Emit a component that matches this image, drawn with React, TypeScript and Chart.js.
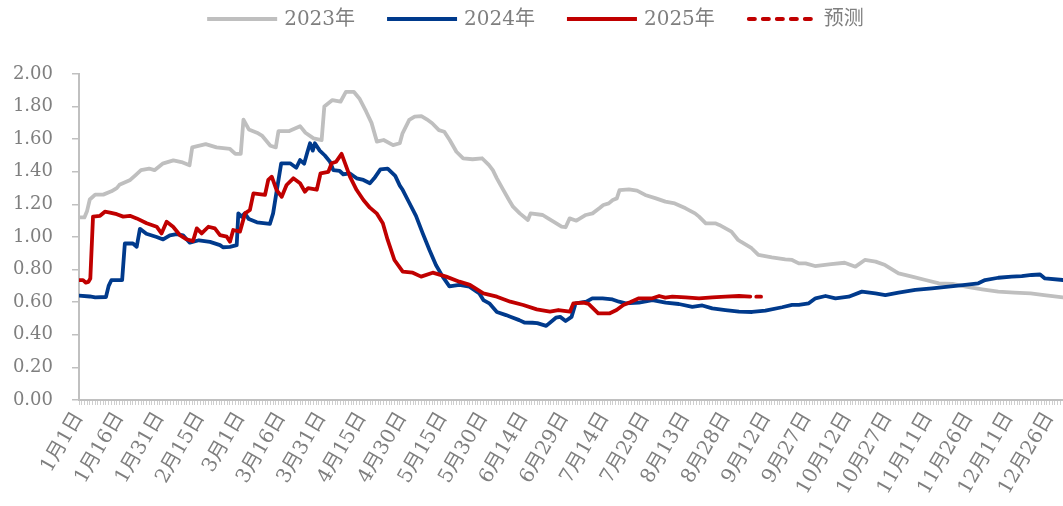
import React, { useEffect, useRef } from 'react';
import { Chart, registerables } from 'chart.js';

Chart.register(...registerables);

// ---------- data ----------
const xTickLabels = [
  '1月1日', '1月16日', '1月31日', '2月15日', '3月1日', '3月16日', '3月31日', '4月15日',
  '4月30日', '5月15日', '5月30日', '6月14日', '6月29日', '7月14日', '7月29日', '8月13日',
  '8月28日', '9月12日', '9月27日', '10月12日', '10月27日', '11月11日', '11月26日', '12月11日', '12月26日',
];
const yTickValues = [0, 0.2, 0.4, 0.6, 0.8, 1.0, 1.2, 1.4, 1.6, 1.8, 2.0];
const dayCount = 366;
const legendLabels = ['2023年', '2024年', '2025年', '预测'];

const days2023 = [0, 2, 3, 4, 6, 9, 12, 14, 15, 19, 21, 23, 26, 28, 31, 35, 38, 41, 42, 47, 51, 56, 58, 60, 61, 63, 66, 68, 71, 73, 74, 78, 82, 84, 87, 90, 91, 94, 97, 99, 102, 104, 106.5, 108.5, 110.5, 113, 116.5, 119, 120, 122.5, 124.5, 127, 129, 131, 133.5, 135.5, 137.5, 140, 142.5, 146, 149.5, 152, 153.5, 155, 157, 159.5, 161, 163.5, 166.5, 167.5, 172, 174, 176, 179, 180.5, 182, 184.5, 188, 190.5, 193, 194.5, 196.5, 198, 199.5, 200.5, 204, 207, 210, 214, 217.5, 221, 225, 228.5, 230, 232.5, 236, 237.5, 242, 244.5, 245.5, 249.5, 252, 257, 262, 264.5, 267, 269.5, 273, 279, 284, 288, 291.5, 295.5, 299, 304, 309, 314, 319, 324, 329, 335, 341, 347, 353, 358, 365];
const values2023 = [1.12, 1.12, 1.16, 1.23, 1.26, 1.26, 1.28, 1.30, 1.32, 1.35, 1.38, 1.41, 1.42, 1.41, 1.45, 1.47, 1.46, 1.44, 1.55, 1.57, 1.55, 1.54, 1.51, 1.51, 1.72, 1.66, 1.64, 1.62, 1.56, 1.55, 1.65, 1.65, 1.68, 1.64, 1.605, 1.595, 1.80, 1.84, 1.83, 1.89, 1.89, 1.85, 1.77, 1.70, 1.585, 1.595, 1.564, 1.575, 1.636, 1.718, 1.738, 1.742, 1.722, 1.698, 1.656, 1.646, 1.595, 1.523, 1.483, 1.477, 1.483, 1.442, 1.41, 1.36, 1.30, 1.227, 1.186, 1.145, 1.104, 1.145, 1.135, 1.114, 1.094, 1.063, 1.06, 1.114, 1.10, 1.135, 1.145, 1.176, 1.196, 1.206, 1.227, 1.237, 1.288, 1.292, 1.285, 1.258, 1.237, 1.217, 1.206, 1.176, 1.145, 1.125, 1.084, 1.084, 1.074, 1.033, 0.982, 0.971, 0.931, 0.89, 0.875, 0.863, 0.859, 0.838, 0.838, 0.822, 0.834, 0.842, 0.818, 0.859, 0.849, 0.828, 0.777, 0.757, 0.736, 0.716, 0.712, 0.695, 0.679, 0.665, 0.659, 0.654, 0.644, 0.63];

const days2024 = [0, 4, 6, 10, 11, 12, 16, 17, 20, 21.4, 22.6, 25, 28.8, 31.2, 33.7, 36.2, 38.6, 41.1, 44.5, 48.6, 52.3, 53.4, 56, 58.5, 59.1, 60.3, 61.5, 63, 66, 70.8, 72, 73.5, 75, 78.3, 80.6, 82, 83.5, 84.7, 85.7, 86.7, 87.5, 89.3, 91.2, 93.1, 94.3, 96.7, 98, 100.5, 103, 105.5, 107.9, 109.5, 111.8, 114.5, 117.3, 119, 120.1, 122.6, 125, 127.5, 130, 132.4, 134.9, 137.4, 141.1, 144.8, 148.5, 150, 152.2, 155, 158.4, 160, 163.3, 165.2, 168.2, 170, 173.3, 176.9, 178.5, 180.5, 182.7, 184.2, 188.2, 190.4, 194.2, 197.9, 200.3, 202.8, 207.7, 212.7, 217.6, 222.5, 227.5, 231.2, 234.9, 239.8, 244.8, 249.7, 254.6, 260.8, 264.5, 267, 270.7, 273.2, 276.9, 280.6, 285.5, 290.4, 295.4, 299.1, 304, 310.2, 316.4, 322.5, 328.7, 333.6, 336.1, 341, 346, 349.7, 353.4, 356.5, 358.3, 365];
const values2024 = [0.64, 0.635, 0.63, 0.632, 0.70, 0.735, 0.735, 0.96, 0.96, 0.94, 1.05, 1.02, 1.00, 0.985, 1.01, 1.018, 1.01, 0.965, 0.98, 0.97, 0.95, 0.937, 0.94, 0.95, 1.145, 1.125, 1.145, 1.11, 1.09, 1.08, 1.145, 1.30, 1.452, 1.452, 1.425, 1.472, 1.45, 1.52, 1.575, 1.53, 1.575, 1.53, 1.50, 1.462, 1.411, 1.405, 1.385, 1.39, 1.36, 1.35, 1.33, 1.36, 1.415, 1.42, 1.375, 1.315, 1.288, 1.207, 1.13, 1.022, 0.92, 0.828, 0.757, 0.697, 0.706, 0.695, 0.654, 0.613, 0.593, 0.54, 0.521, 0.511, 0.49, 0.475, 0.474, 0.472, 0.455, 0.505, 0.51, 0.485, 0.51, 0.593, 0.603, 0.624, 0.624, 0.617, 0.603, 0.593, 0.597, 0.613, 0.597, 0.589, 0.572, 0.58, 0.562, 0.552, 0.542, 0.54, 0.548, 0.569, 0.583, 0.583, 0.593, 0.624, 0.638, 0.624, 0.634, 0.665, 0.654, 0.644, 0.659, 0.675, 0.685, 0.695, 0.706, 0.716, 0.736, 0.75, 0.757, 0.76, 0.767, 0.77, 0.746, 0.736];

const days2025 = [0, 1.5, 2.5, 3.5, 4.2, 5.2, 7.8, 9.6, 11.5, 14, 16.4, 18.9, 21.4, 25.1, 28.8, 30.6, 32.5, 34.9, 37.4, 39.9, 42.3, 43.7, 45.5, 48, 50.4, 52.3, 54.8, 56, 57.2, 59.7, 61.6, 63.4, 64.7, 69, 70.2, 71.5, 73.3, 75.2, 77, 79.5, 82, 83.8, 85, 88.2, 89.6, 92.5, 93.7, 95.4, 97.4, 98.7, 100.5, 103, 105.5, 107.9, 110.4, 112.7, 114.5, 117, 120.1, 123.8, 126.9, 131.2, 136.2, 141.1, 145, 150, 155, 160, 164.8, 169.8, 174.7, 177.8, 182.1, 183.4, 187.1, 189, 192.6, 196.9, 199.4, 201.9, 204.4, 207.7, 212.7, 215.2, 217.5, 220.1, 225, 230, 234.9, 239.8, 244.8, 249];
const values2025 = [0.735, 0.735, 0.72, 0.725, 0.745, 1.125, 1.13, 1.155, 1.15, 1.14, 1.125, 1.13, 1.114, 1.084, 1.063, 1.022, 1.094, 1.063, 1.012, 0.986, 0.975, 1.053, 1.022, 1.063, 1.053, 1.012, 1.002, 0.971, 1.043, 1.033, 1.145, 1.166, 1.268, 1.258, 1.35, 1.37, 1.288, 1.247, 1.319, 1.36, 1.33, 1.278, 1.30, 1.29, 1.391, 1.40, 1.452, 1.462, 1.51, 1.452, 1.37, 1.288, 1.227, 1.18, 1.145, 1.084, 0.982, 0.859, 0.787, 0.781, 0.757, 0.781, 0.757, 0.726, 0.706, 0.654, 0.634, 0.603, 0.583, 0.556, 0.542, 0.552, 0.542, 0.593, 0.597, 0.59, 0.532, 0.532, 0.552, 0.583, 0.60, 0.624, 0.624, 0.638, 0.628, 0.634, 0.63, 0.624, 0.63, 0.634, 0.638, 0.634];

const daysForecast = [249, 253];
const valuesForecast = [0.634, 0.634];

// ---------- styles ----------
const FONT = '"DejaVu Serif", "Noto Sans CJK SC", serif';
const TEXT_COLOR = '#7f7f7f';
const AXIS_COLOR = '#c0c0c0';
const COLOR_2023 = '#bfbfbf';
const COLOR_2024 = '#003a8c';
const COLOR_2025 = '#c00000';
const legendColors = [COLOR_2023, COLOR_2024, COLOR_2025, COLOR_2025];

const toPoints = (days: number[], values: number[]) => days.map((d, i) => ({ x: d, y: values[i] }));

const legendPlugin = {
  id: 'topLegend',
  afterDraw(chart: any) {
    const ctx = chart.ctx as CanvasRenderingContext2D;
    ctx.save();
    ctx.font = `20px ${FONT}`;
    const lineLen = 70;
    const gapText = 7;
    const gapItem = 32;
    const widths = legendLabels.map((t) => ctx.measureText(t).width);
    const total = widths.reduce((s, w) => s + lineLen + gapText + w, 0) + gapItem * (legendLabels.length - 1);
    let x = (chart.width - total) / 2 + 4;
    const y = 19;
    legendLabels.forEach((t, i) => {
      ctx.beginPath();
      ctx.strokeStyle = legendColors[i];
      ctx.lineWidth = 4;
      if (i === 3) {
        ctx.setLineDash([6, 8]);
        ctx.lineCap = 'round';
        ctx.moveTo(x + 2, y);
      } else {
        ctx.setLineDash([]);
        ctx.lineCap = 'butt';
        ctx.moveTo(x, y);
      }
      ctx.lineTo(x + lineLen, y);
      ctx.stroke();
      ctx.setLineDash([]);
      ctx.fillStyle = TEXT_COLOR;
      ctx.textBaseline = 'middle';
      ctx.textAlign = 'left';
      ctx.fillText(t, x + lineLen + gapText, y + 1);
      x += lineLen + gapText + widths[i] + gapItem;
    });
    ctx.restore();
  },
};

export default function App() {
  const canvasRef = useRef<HTMLCanvasElement | null>(null);

  useEffect(() => {
    if (!canvasRef.current) return;
    const lineBase = {
      pointRadius: 0,
      pointHoverRadius: 0,
      borderWidth: 3.8,
      tension: 0,
      fill: false,
      borderJoinStyle: 'round' as const,
      borderCapStyle: 'round' as const,
    };
    const chart = new Chart(canvasRef.current, {
      type: 'line',
      data: {
        datasets: [
          { ...lineBase, label: legendLabels[0], data: toPoints(days2023, values2023), borderColor: COLOR_2023, backgroundColor: COLOR_2023, order: 3 },
          { ...lineBase, label: legendLabels[1], data: toPoints(days2024, values2024), borderColor: COLOR_2024, backgroundColor: COLOR_2024, order: 2 },
          { ...lineBase, label: legendLabels[2], data: toPoints(days2025, values2025), borderColor: COLOR_2025, backgroundColor: COLOR_2025, order: 0 },
          { ...lineBase, label: legendLabels[3], data: toPoints(daysForecast, valuesForecast), borderColor: COLOR_2025, backgroundColor: COLOR_2025, borderDash: [6, 6], borderDashOffset: 6, order: 1 },
        ],
      },
      options: {
        animation: false,
        responsive: true,
        maintainAspectRatio: false,
        layout: { padding: { top: 74, right: 0, bottom: 0, left: 0 } },
        plugins: {
          legend: { display: false },
          tooltip: { enabled: false },
        },
        scales: {
          x: {
            type: 'linear',
            min: 0,
            max: dayCount - 1,
            afterBuildTicks: (scale: any) => {
              const ticks = [];
              for (let i = 0; i < dayCount; i++) ticks.push({ value: i });
              scale.ticks = ticks;
            },
            afterFit: (scale: any) => {
              scale.height = 106;
              scale.paddingRight = 0;
              scale.paddingLeft = 0;
            },
            grid: {
              drawOnChartArea: false,
              drawTicks: true,
              tickLength: 5,
              color: '#cfcfcf',
              lineWidth: 1,
            },
            border: { display: true, color: AXIS_COLOR, width: 2 },
            ticks: {
              autoSkip: false,
              maxRotation: 60,
              minRotation: 60,
              padding: 3,
              color: TEXT_COLOR,
              font: { family: FONT, size: 20 },
              callback: (value: any) => {
                const v = Number(value);
                return v % 15 === 0 ? xTickLabels[v / 15] ?? '' : '';
              },
            },
          },
          y: {
            type: 'linear',
            min: 0,
            max: 2,
            afterBuildTicks: (scale: any) => {
              scale.ticks = yTickValues.map((v) => ({ value: v }));
            },
            afterFit: (scale: any) => {
              scale.width = 79;
            },
            grid: {
              drawOnChartArea: false,
              drawTicks: true,
              tickLength: 7,
              color: AXIS_COLOR,
              lineWidth: 1.5,
            },
            border: { display: true, color: AXIS_COLOR, width: 2 },
            ticks: {
              padding: 19,
              color: TEXT_COLOR,
              font: { family: FONT, size: 18 },
              callback: (value: any) => Number(value).toFixed(2),
            },
          },
        },
      },
      plugins: [legendPlugin],
    });
    return () => chart.destroy();
  }, []);

  return (
    <div style={{ position: 'absolute', left: 0, top: 0, width: 1063, height: 506, background: '#ffffff' }}>
      <canvas ref={canvasRef} />
    </div>
  );
}
